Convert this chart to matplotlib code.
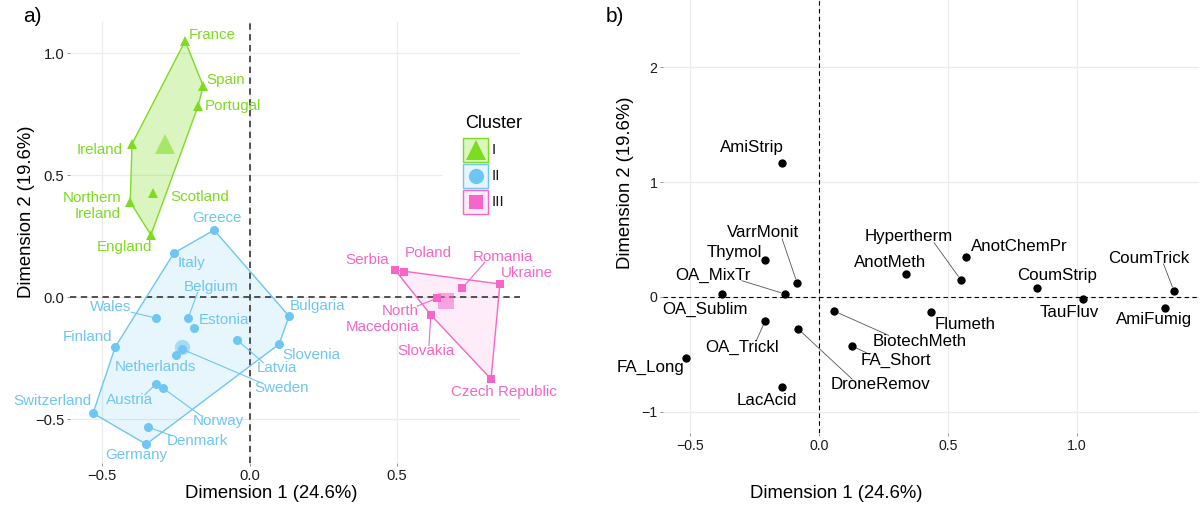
import matplotlib
matplotlib.use('Agg')
import matplotlib.pyplot as plt
import numpy as np
from matplotlib.patches import Polygon, Rectangle
from matplotlib.lines import Line2D

plt.rcParams['font.family'] = ['Liberation Sans', 'DejaVu Sans']

W, H, DPI = 1201, 507, 100

# ------------------------------------------------------------------ data (a)
cluster_names = ['I', 'II', 'III']

countries_I = ['France', 'Spain', 'Portugal', 'Ireland', 'Northern\nIreland', 'Scotland', 'England']
dim1_I = [-0.218, -0.157, -0.174, -0.398, -0.404, -0.327, -0.334]
dim2_I = [1.050, 0.866, 0.784, 0.628, 0.390, 0.427, 0.255]

countries_II = ['Greece', 'Italy', 'Wales', 'Belgium', 'Estonia', 'Finland', 'Bulgaria', 'Latvia',
                'Slovenia', 'Sweden', 'Netherlands', 'Austria', 'Norway', 'Switzerland', 'Denmark', 'Germany']
dim1_II = [-0.120, -0.256, -0.317, -0.208, -0.188, -0.455, 0.134, -0.042,
           0.100, -0.229, -0.249, -0.317, -0.293, -0.530, -0.344, -0.350]
dim2_II = [0.275, 0.181, -0.086, -0.086, -0.127, -0.205, -0.078, -0.176,
           -0.193, -0.213, -0.238, -0.356, -0.373, -0.476, -0.533, -0.603]

countries_III = ['Serbia', 'Poland', 'Romania', 'Ukraine', 'North\nMacedonia', 'Slovakia', 'Czech Republic']
dim1_III = [0.493, 0.523, 0.720, 0.848, 0.635, 0.614, 0.818]
dim2_III = [0.111, 0.103, 0.037, 0.054, -0.004, -0.073, -0.336]

# ------------------------------------------------------------------ data (b)
methods = ['AmiStrip', 'Thymol', 'VarrMonit', 'OA_MixTr', 'OA_Sublim', 'OA_Trickl', 'DroneRemov',
           'FA_Long', 'LacAcid', 'BiotechMeth', 'FA_Short', 'AnotMeth', 'Hypertherm', 'AnotChemPr',
           'CoumStrip', 'TauFluv', 'CoumTrick', 'AmiFumig', 'Flumeth']
m_dim1 = [-0.143, -0.209, -0.085, -0.132, -0.376, -0.209, -0.081,
          -0.516, -0.143, 0.058, 0.128, 0.337, 0.550, 0.570,
          0.845, 1.023, 1.376, 1.341, 0.434]
m_dim2 = [1.165, 0.322, 0.122, 0.026, 0.026, -0.209, -0.278,
          -0.530, -0.783, -0.122, -0.426, 0.200, 0.148, 0.348,
          0.078, -0.017, 0.052, -0.096, -0.130]

xticks_a = [-0.5, 0.0, 0.5]
yticks_a = [-0.5, 0.0, 0.5, 1.0]
xticks_b = [-0.5, 0.0, 0.5, 1.0]
yticks_b = [-1, 0, 1, 2]
xlabel = 'Dimension 1 (24.6%)'
ylabel = 'Dimension 2 (19.6%)'

# ------------------------------------------------------------------ layout / style
colors = ['#7ddc1f', '#6ec6f2', '#f765c8']
fill_alphas = [0.28, 0.16, 0.12]
markers = ['^', 'o', 's']
msizes = [7.5, 6.5, 6]
centroid_sizes = [15, 11, 11]
legend_msizes = [14, 11, 10]
LAB_FS_A = 10.9
LAB_FS_B = 12.2

# label anchor positions (data units), horizontal alignment, leader flag
label_pos_a = {
    'France': (-0.125, 1.075, 'center', False),
    'Spain': (-0.080, 0.890, 'center', False),
    'Portugal': (-0.056, 0.784, 'center', False),
    'Ireland': (-0.506, 0.603, 'center', False),
    'Northern\nIreland': (-0.435, 0.373, 'right', False),
    'Scotland': (-0.269, 0.410, 'left', False),
    'England': (-0.425, 0.205, 'center', False),
    'Greece': (-0.110, 0.324, 'center', False),
    'Italy': (-0.242, 0.140, 'left', False),
    'Belgium': (-0.130, 0.041, 'center', True),
    'Wales': (-0.469, -0.041, 'center', True),
    'Estonia': (-0.171, -0.094, 'left', False),
    'Finland': (-0.550, -0.164, 'center', False),
    'Bulgaria': (0.137, -0.036, 'left', False),
    'Slovenia': (0.110, -0.237, 'left', False),
    'Latvia': (0.025, -0.291, 'left', True),
    'Sweden': (0.015, -0.373, 'left', True),
    'Netherlands': (-0.317, -0.287, 'center', False),
    'Austria': (-0.408, -0.422, 'center', True),
    'Switzerland': (-0.669, -0.426, 'center', False),
    'Norway': (-0.107, -0.508, 'center', True),
    'Denmark': (-0.178, -0.590, 'center', True),
    'Germany': (-0.384, -0.648, 'center', False),
    'Serbia': (0.400, 0.152, 'center', False),
    'Poland': (0.604, 0.181, 'center', False),
    'Romania': (0.858, 0.164, 'center', True),
    'Ukraine': (0.938, 0.099, 'center', False),
    'North\nMacedonia': (0.574, -0.090, 'right', True),
    'Slovakia': (0.599, -0.221, 'center', True),
    'Czech Republic': (0.862, -0.389, 'center', False),
}

label_pos_b = {
    'AmiStrip': (-0.260, 1.296, False),
    'VarrMonit': (-0.217, 0.557, True),
    'Thymol': (-0.329, 0.383, False),
    'OA_MixTr': (-0.413, 0.191, True),
    'OA_Sublim': (-0.444, -0.104, False),
    'OA_Trickl': (-0.300, -0.435, True),
    'DroneRemov': (0.240, -0.765, True),
    'FA_Long': (-0.653, -0.617, False),
    'LacAcid': (-0.202, -0.896, False),
    'BiotechMeth': (0.391, -0.383, True),
    'FA_Short': (0.297, -0.548, True),
    'Flumeth': (0.566, -0.235, False),
    'AnotMeth': (0.277, 0.304, False),
    'Hypertherm': (0.349, 0.522, True),
    'AnotChemPr': (0.777, 0.443, False),
    'CoumStrip': (0.921, 0.191, False),
    'TauFluv': (0.969, -0.139, False),
    'CoumTrick': (1.277, 0.339, True),
    'AmiFumig': (1.298, -0.200, False),
}


def fx(px):
    return px / W


def fy(py):
    return 1 - py / H


def hull(points):
    pts = sorted(set(points))
    if len(pts) <= 2:
        return pts

    def cross(o, a, b):
        return (a[0] - o[0]) * (b[1] - o[1]) - (a[1] - o[1]) * (b[0] - o[0])
    lower, upper = [], []
    for p in pts:
        while len(lower) >= 2 and cross(lower[-2], lower[-1], p) <= 0:
            lower.pop()
        lower.append(p)
    for p in reversed(pts):
        while len(upper) >= 2 and cross(upper[-2], upper[-1], p) <= 0:
            upper.pop()
        upper.append(p)
    return lower[:-1] + upper[:-1]


fig = plt.figure(figsize=(W / DPI, H / DPI), dpi=DPI)
fig.patch.set_facecolor('white')

axA = fig.add_axes([fx(70), fy(463), (520 - 70) / W, (463 - 22) / H])
axB = fig.add_axes([fx(663), fy(433), (1199 - 663) / W, (433 - 0) / H])

axA.set_xlim(-0.608, 0.916)
axA.set_ylim(-0.680, 1.128)
axB.set_xlim(-0.605, 1.473)
axB.set_ylim(-1.183, 2.583)

for ax, xt, yt, fs in [(axA, xticks_a, yticks_a, 10.6), (axB, xticks_b, yticks_b, 10.2)]:
    for s in ax.spines.values():
        s.set_visible(False)
    ax.set_xticks(xt)
    ax.set_yticks(yt)
    ax.grid(True, color='#ebebeb', lw=0.9)
    ax.set_axisbelow(True)
    ax.tick_params(length=2.5, width=0.6, color='#888888', labelsize=fs,
                   labelcolor='#1a1a1a', pad=1.5)

axA.set_xticklabels(['\u22120.5', '0.0', '0.5'])
axA.set_yticklabels(['\u22120.5', '0.0', '0.5', '1.0'])
axB.set_xticklabels(['\u22120.5', '0.0', '0.5', '1.0'])
axB.set_yticklabels(['\u22121', '0', '1', '2'])

axA.axhline(0, color='#444444', lw=1.3, ls=(0, (3.5, 2.5)), zorder=1.2)
axA.axvline(0, color='#444444', lw=1.3, ls=(0, (3.5, 2.5)), zorder=1.2)
axB.axhline(0, color='black', lw=0.8, ls=(0, (4, 3)), zorder=1.2)
axB.axvline(0, color='black', lw=0.8, ls=(0, (4, 3)), zorder=1.2)

# ---------------------------------------------------------------- panel a
groups = [(countries_I, dim1_I, dim2_I), (countries_II, dim1_II, dim2_II),
          (countries_III, dim1_III, dim2_III)]
leader_items_a = []
for gi, (names, xs, ys) in enumerate(groups):
    col = colors[gi]
    hp = hull(list(zip(xs, ys)))
    axA.add_patch(Polygon(hp, closed=True, facecolor=col, alpha=fill_alphas[gi],
                          edgecolor='none', zorder=1))
    axA.add_patch(Polygon(hp, closed=True, facecolor='none', edgecolor=col, lw=1.0, zorder=1.5))
    axA.plot(xs, ys, ls='none', marker=markers[gi], ms=msizes[gi], color=col,
             markeredgewidth=0, zorder=3)
    axA.plot([np.mean(xs)], [np.mean(ys)], ls='none', marker=markers[gi],
             ms=centroid_sizes[gi], color=col, alpha=0.55, markeredgewidth=0, zorder=3.5)
    for n, x, y in zip(names, xs, ys):
        lx, ly, ha, lead = label_pos_a[n]
        t = axA.text(lx, ly, n, ha=ha, va='center', fontsize=LAB_FS_A, color=col,
                     multialignment=ha, zorder=4, linespacing=1.15)
        if lead:
            leader_items_a.append((x, y, t, col))

# ---------------------------------------------------------------- panel b
axB.plot(m_dim1, m_dim2, ls='none', marker='o', ms=6, color='black', markeredgewidth=0, zorder=3)
leader_items_b = []
for n, x, y in zip(methods, m_dim1, m_dim2):
    lx, ly, lead = label_pos_b[n]
    t = axB.text(lx, ly, n, ha='center', va='center', fontsize=LAB_FS_B, color='black', zorder=4)
    if lead:
        leader_items_b.append((x, y, t, '#555555'))

# ---------------------------------------------------------------- leaders
fig.canvas.draw()
r = fig.canvas.get_renderer()


def draw_leaders(ax, items, lw):
    inv = ax.transData.inverted()
    for (x, y, t, col) in items:
        bb = t.get_window_extent(r)
        x0, x1, y0, y1 = bb.x0 + 1, bb.x1 - 1, bb.y0 + 2, bb.y1 - 2
        P = np.array(ax.transData.transform((x, y)))
        Q1 = np.array([min(max(P[0], x0), x1), min(max(P[1], y0), y1)])
        C = np.array([(x0 + x1) / 2, (y0 + y1) / 2])
        D = P - C
        ts = []
        if D[0] != 0:
            ts.append(((x1 if D[0] > 0 else x0) - C[0]) / D[0])
        if D[1] != 0:
            ts.append(((y1 if D[1] > 0 else y0) - C[1]) / D[1])
        tt = min(ts) if ts else 0
        Q2 = C + D * min(tt, 1)
        Q = (Q1 + Q2) / 2
        d = np.hypot(*(Q - P))
        if d < 4:
            continue
        S = P + (Q - P) * (4.0 / d)
        a = inv.transform(S)
        b = inv.transform(Q)
        ax.plot([a[0], b[0]], [a[1], b[1]], color=col, lw=lw, zorder=2, solid_capstyle='butt')


draw_leaders(axA, leader_items_a, 0.8)
draw_leaders(axB, leader_items_b, 0.6)

# ---------------------------------------------------------------- legend (panel a)
fig.add_artist(Rectangle((fx(443), fy(222)), (526 - 443) / W, (222 - 105) / H,
                         transform=fig.transFigure, facecolor='white', edgecolor='none', zorder=1))
fig.text(fx(465), fy(123), 'Cluster', ha='left', va='center', fontsize=13, color='black', zorder=3)
for i, name in enumerate(cluster_names):
    cy = 150 + 26 * i
    fig.add_artist(Rectangle((fx(463), fy(cy + 12)), 25 / W, 24 / H, transform=fig.transFigure,
                             facecolor=colors[i], alpha=fill_alphas[i], edgecolor='none', zorder=2))
    fig.add_artist(Rectangle((fx(463), fy(cy + 12)), 25 / W, 24 / H, transform=fig.transFigure,
                             facecolor='none', edgecolor=colors[i], lw=1.0, zorder=2.5))
    fig.add_artist(Line2D([fx(475.5)], [fy(cy)], transform=fig.transFigure, ls='none',
                          marker=markers[i], ms=legend_msizes[i], color=colors[i],
                          markeredgewidth=0, zorder=3))
    fig.text(fx(492), fy(cy), name, ha='left', va='center', fontsize=11, color='#1a1a1a', zorder=3)

# ---------------------------------------------------------------- titles
fig.text(fx(271), fy(494), xlabel, ha='center', va='center', fontsize=13.3)
fig.text(fx(27), fy(212), ylabel, ha='center', va='center', rotation=90, fontsize=13.3)
fig.text(fx(836), fy(493), xlabel, ha='center', va='center', fontsize=13.3)
fig.text(fx(626), fy(183), ylabel, ha='center', va='center', rotation=90, fontsize=13.3)
fig.text(fx(23), fy(17), 'a)', ha='left', va='center', fontsize=15)
fig.text(fx(606), fy(17), 'b)', ha='left', va='center', fontsize=15)

fig.savefig('out.png', dpi=DPI, facecolor='white')
